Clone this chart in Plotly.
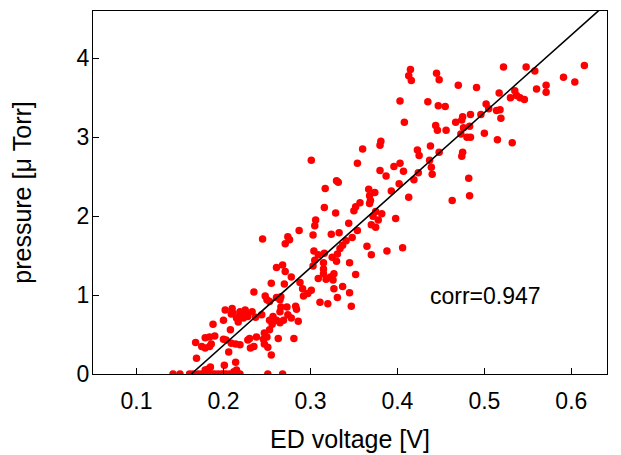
import plotly.graph_objects as go

# --- data (ED voltage [V], pressure [uTorr]) ---
ed_low = [0.202, 0.210, 0.211, 0.219, 0.220, 0.225, 0.227, 0.223, 0.209, 0.200, 0.215, 0.217,
          0.188, 0.208, 0.179, 0.184, 0.190, 0.200, 0.186, 0.175, 0.179, 0.184, 0.168, 0.209,
          0.214, 0.219, 0.206, 0.169, 0.214, 0.201, 0.185, 0.182, 0.179, 0.215, 0.212, 0.203,
          0.228, 0.228,
          0.142, 0.150, 0.161, 0.165, 0.171, 0.175, 0.179, 0.184, 0.187, 0.190, 0.194, 0.198,
          0.200, 0.203, 0.207, 0.211, 0.215, 0.219, 0.251, 0.268]
p_low = [0.81, 0.83, 0.77, 0.79, 0.75, 0.81, 0.77, 0.71, 0.76, 0.68, 0.71, 0.66,
         0.63, 0.56, 0.46, 0.47, 0.48, 0.44, 0.38, 0.35, 0.33, 0.35, 0.40, 0.39,
         0.38, 0.37, 0.28, 0.20, 0.15, 0.11, 0.09, 0.06, 0.05, 0.05, 0.03, 0.43,
         0.43, 0.73,
         0, 0, 0, 0, 0, 0, 0, 0, 0, 0, 0, 0,
         0, 0, 0, 0, 0, 0, 0, 0]

ed_mid1 = [0.245, 0.274, 0.276, 0.271, 0.287, 0.261, 0.268, 0.271, 0.278, 0.255, 0.270, 0.266,
           0.235, 0.248, 0.250, 0.253, 0.261, 0.265, 0.283, 0.284, 0.266, 0.273, 0.265, 0.233,
           0.237, 0.244, 0.253, 0.257, 0.256, 0.261, 0.265, 0.269, 0.278, 0.286, 0.253, 0.230,
           0.238, 0.246, 0.247, 0.250, 0.263, 0.281, 0.247, 0.251, 0.231, 0.235, 0.255, 0.274]
p_mid1 = [1.71, 1.74, 1.70, 1.65, 1.82, 1.35, 1.38, 1.30, 1.23, 1.15, 1.14, 0.98,
          1.04, 0.99, 0.94, 0.92, 0.97, 0.94, 0.86, 0.82, 0.85, 0.85, 0.79, 0.79,
          0.72, 0.75, 0.68, 0.73, 0.63, 0.68, 0.65, 0.68, 0.71, 0.67, 0.56, 0.45,
          0.47, 0.44, 0.52, 0.47, 0.45, 0.45, 0.38, 0.34, 0.33, 0.35, 0.24, 0.75]

ed_mid2 = [0.301, 0.360, 0.354, 0.330, 0.332, 0.317, 0.367, 0.374, 0.368, 0.357, 0.352, 0.350,
           0.368, 0.316, 0.329, 0.375, 0.372, 0.378, 0.370, 0.375, 0.306, 0.305, 0.344, 0.303,
           0.324, 0.333, 0.354, 0.348, 0.341, 0.337, 0.365, 0.334, 0.331, 0.370, 0.304, 0.309,
           0.316, 0.305, 0.325, 0.315, 0.330, 0.345, 0.303, 0.315, 0.315, 0.327, 0.352, 0.309,
           0.323, 0.326, 0.318, 0.337, 0.327, 0.345, 0.331, 0.288, 0.291, 0.301, 0.292, 0.297,
           0.347, 0.311, 0.320, 0.369]
p_mid2 = [2.71, 2.85, 2.67, 2.45, 2.43, 2.35, 2.34, 2.30, 2.26, 2.17, 2.12, 2.07,
          2.16, 2.11, 2.04, 2.06, 2.00, 1.95, 1.89, 1.86, 1.95, 1.88, 1.91, 1.76,
          1.77, 1.79, 1.82, 1.73, 1.69, 1.63, 1.62, 1.59, 1.52, 1.51, 1.56, 1.51,
          1.53, 1.44, 1.48, 1.41, 1.43, 1.41, 1.37, 1.33, 1.27, 1.27, 1.26, 1.21,
          1.23, 1.19, 1.20, 1.11, 1.08, 1.03, 0.97, 1.16, 1.08, 1.06, 0.99, 1.02,
          0.86, 0.91, 0.89, 2.20]

ed_high1 = [0.415, 0.413, 0.416, 0.445, 0.448, 0.470, 0.491, 0.403, 0.435, 0.447, 0.455, 0.484,
            0.475, 0.474, 0.467, 0.408, 0.444, 0.446, 0.456, 0.476, 0.483, 0.473, 0.480, 0.484,
            0.381, 0.380, 0.438, 0.423, 0.425, 0.448, 0.437, 0.475, 0.474, 0.403, 0.396, 0.407,
            0.387, 0.380, 0.439, 0.440, 0.424, 0.419, 0.482, 0.402, 0.393, 0.413, 0.463, 0.483,
            0.382, 0.398, 0.406, 0.388]
p_high1 = [3.86, 3.78, 3.72, 3.81, 3.73, 3.66, 3.63, 3.46, 3.45, 3.40, 3.39, 3.29,
           3.26, 3.22, 3.19, 3.19, 3.15, 3.09, 3.09, 3.12, 3.14, 3.04, 3.00, 3.00,
           2.95, 2.90, 2.89, 2.84, 2.77, 2.81, 2.71, 2.81, 2.76, 2.67, 2.63, 2.57,
           2.51, 2.58, 2.62, 2.53, 2.55, 2.46, 2.48, 2.41, 2.32, 2.24, 2.20, 2.26,
           2.03, 1.97, 1.60, 1.56]

ed_high2 = [0.522, 0.548, 0.558, 0.615, 0.591, 0.604, 0.571, 0.560, 0.571, 0.517, 0.535, 0.530,
            0.537, 0.541, 0.546, 0.502, 0.505, 0.514, 0.518, 0.519, 0.496, 0.500, 0.515, 0.532]
p_high2 = [3.89, 3.89, 3.84, 3.91, 3.76, 3.70, 3.66, 3.61, 3.57, 3.56, 3.59, 3.50,
           3.53, 3.50, 3.48, 3.42, 3.36, 3.34, 3.35, 3.24, 3.29, 3.05, 2.97, 2.93]

ed_voltage = ed_low + ed_mid1 + ed_mid2 + ed_high1 + ed_high2
pressure = p_low + p_mid1 + p_mid2 + p_high1 + p_high2

# fitted line: pressure = fit_slope * (voltage - fit_x0)
fit_slope = 9.83
fit_x0 = 0.163
fit_x = [fit_x0, 0.66]
fit_y = [fit_slope * (v - fit_x0) for v in fit_x]

corr_text = "corr=0.947"
x_ticks = [0.1, 0.2, 0.3, 0.4, 0.5, 0.6]
y_ticks = [0, 1, 2, 3, 4]

FONT = "Liberation Sans, Arial, Helvetica, sans-serif"

fig = go.Figure()
fig.add_trace(go.Scatter(x=ed_voltage, y=pressure, mode="markers",
                         marker=dict(color="#ff0000", size=7.5, line=dict(width=0)),
                         showlegend=False, hoverinfo="x+y"))
fig.add_trace(go.Scatter(x=fit_x, y=fit_y, mode="lines",
                         line=dict(color="black", width=1.6), showlegend=False))

fig.add_annotation(x=0.435, y=0.99, xref="x", yref="y", text=corr_text, showarrow=False,
                   xanchor="left", yanchor="middle", font=dict(family=FONT, size=23, color="black"))

axis_common = dict(showline=True, linecolor="black", linewidth=1, mirror=True,
                   ticks="inside", ticklen=6, tickcolor="black", tickwidth=1,
                   showgrid=False, zeroline=False, automargin=False,
                   tickfont=dict(family=FONT, size=23, color="black"))

# the page body adds an 8 px margin, so the figure is 8 px smaller than the window
fig.update_layout(
    width=613, height=447,
    margin=dict(l=85, r=14, t=3, b=81),
    paper_bgcolor="white", plot_bgcolor="white",
    font=dict(family=FONT, size=23, color="black"),
    xaxis=dict(range=[0.05, 0.641], tickvals=x_ticks,
               ticktext=[f"{v:.1f}" for v in x_ticks],
               ticklabelstandoff=6,
               title=dict(text="ED voltage [V]", font=dict(family=FONT, size=25), standoff=17),
               **axis_common),
    yaxis=dict(range=[0, 4.6], tickvals=y_ticks,
               ticktext=[str(v) for v in y_ticks],
               ticklabelstandoff=-2,
               title=dict(text="pressure [\u03bc Torr]", font=dict(family=FONT, size=25), standoff=37),
               **axis_common),
)

fig.write_html("out.html")
